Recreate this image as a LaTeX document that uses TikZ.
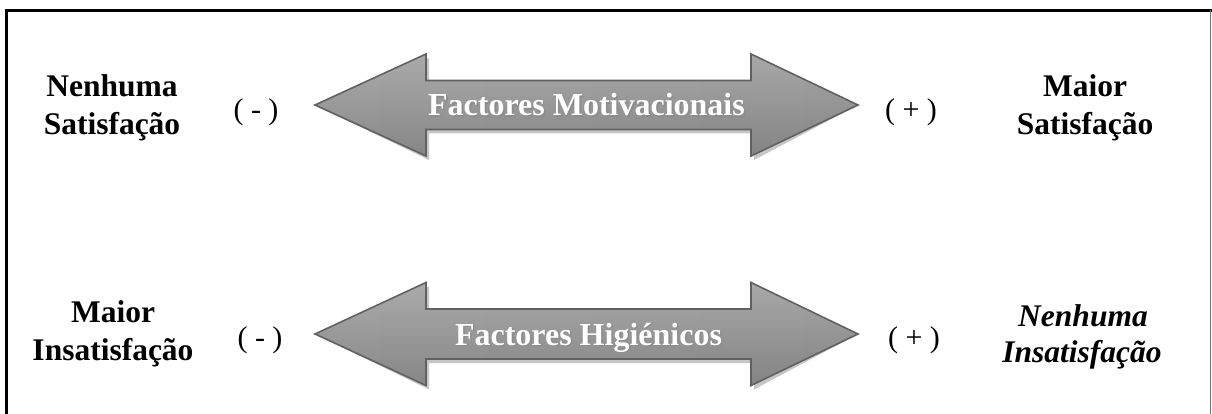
\documentclass[tikz,border=0pt]{standalone}
\usepackage{fontspec}
\setmainfont{Liberation Serif}
\begin{document}
\begin{tikzpicture}[x=1pt,y=-1pt,
  lbl/.style={font=\fontsize{31.5}{38}\selectfont\bfseries, anchor=base, inner sep=0pt},
  lbli/.style={font=\fontsize{31.5}{38}\selectfont\bfseries\itshape, anchor=base, inner sep=0pt},
  sign/.style={font=\fontsize{30}{36}\selectfont, anchor=base, inner sep=0pt},
  arrtxt/.style={font=\fontsize{32}{38}\selectfont\bfseries, text=white, anchor=base, inner sep=0pt},
  arrtxtsh/.style={font=\fontsize{32}{38}\selectfont\bfseries, text=black!45, anchor=base, inner sep=0pt},
  arrshadow/.style={fill=black!50, opacity=0.45},
  arrbody/.style={left color=black!38, middle color=black!17, right color=black!40, draw=none},
  arrshade/.style={top color=white, bottom color=black, opacity=0.14, draw=none},
  arroutline/.style={draw=black!62, line width=1.6pt, line join=miter}
]
\useasboundingbox (0,0) rectangle (1212,414);
% frame
\draw[line width=3pt, line cap=rect] (6.5,414) -- (6.5,10.5) -- (1210,10.5);
\draw[line width=0.8pt, draw=black!55] (1210,10.5) -- (1210,414);

% ---------- top arrow ----------
\begin{scope}[shift={(0,105)}]
  \coordinate (tL) at (315,0);
  \coordinate (tR) at (858,0);
  \fill[arrshadow, shift={(3,4)}] (tL) -- (426,-51) -- (426,-24.5) -- (751,-24.5) -- (751,-51) -- (tR) -- (751,51) -- (751,24.5) -- (426,24.5) -- (426,51) -- cycle;
  \path[arrbody] (tL) -- (426,-51) -- (426,-24.5) -- (751,-24.5) -- (751,-51) -- (tR) -- (751,51) -- (751,24.5) -- (426,24.5) -- (426,51) -- cycle;
  \path[arrshade] (tL) -- (426,-51) -- (426,-24.5) -- (751,-24.5) -- (751,-51) -- (tR) -- (751,51) -- (751,24.5) -- (426,24.5) -- (426,51) -- cycle;
  \draw[arroutline] (tL) -- (426,-51) -- (426,-24.5) -- (751,-24.5) -- (751,-51) -- (tR) -- (751,51) -- (751,24.5) -- (426,24.5) -- (426,51) -- cycle;
  \node[arrtxtsh] (fmsh) at (588,12.2) {Factores Motivacionais};
  \node[arrtxt] (fm) at (586.5,11) {Factores Motivacionais};
\end{scope}

% ---------- bottom arrow ----------
\begin{scope}[shift={(0,334)}]
  \coordinate (bL) at (315,0);
  \coordinate (bR) at (858,0);
  \fill[arrshadow, shift={(3,4)}] (bL) -- (426,-51.5) -- (426,-25) -- (751,-25) -- (751,-51.5) -- (bR) -- (751,51.5) -- (751,25) -- (426,25) -- (426,51.5) -- cycle;
  \path[arrbody] (bL) -- (426,-51.5) -- (426,-25) -- (751,-25) -- (751,-51.5) -- (bR) -- (751,51.5) -- (751,25) -- (426,25) -- (426,51.5) -- cycle;
  \path[arrshade] (bL) -- (426,-51.5) -- (426,-25) -- (751,-25) -- (751,-51.5) -- (bR) -- (751,51.5) -- (751,25) -- (426,25) -- (426,51.5) -- cycle;
  \draw[arroutline] (bL) -- (426,-51.5) -- (426,-25) -- (751,-25) -- (751,-51.5) -- (bR) -- (751,51.5) -- (751,25) -- (426,25) -- (426,51.5) -- cycle;
  \node[arrtxtsh] (fhsh) at (590,12.2) {Factores Higiénicos};
  \node[arrtxt] (fh) at (588.5,11) {Factores Higiénicos};
\end{scope}

% ---------- labels ----------
\node[lbl] (tl1) at (112,97) {Nenhuma};
\node[lbl] (tl2) at (112,135) {Satisfação};
\node[sign] (tlm) at (256,119.5) {( - )};
\node[sign] (trp) at (911,119.5) {( + )};
\node[lbl] (tr1) at (1085,97) {Maior};
\node[lbl] (tr2) at (1085,135) {Satisfação};

\node[lbl] (bl1) at (113,322) {Maior};
\node[lbl] (bl2) at (113,360) {Insatisfação};
\node[sign] (blm) at (260,347.5) {( - )};
\node[sign] (brp) at (914,347.5) {( + )};
\node[lbli] (br1) at (1083,326) {Nenhuma};
\node[lbli] (br2) at (1082,362) {Insatisfação};
\end{tikzpicture}
\end{document}
